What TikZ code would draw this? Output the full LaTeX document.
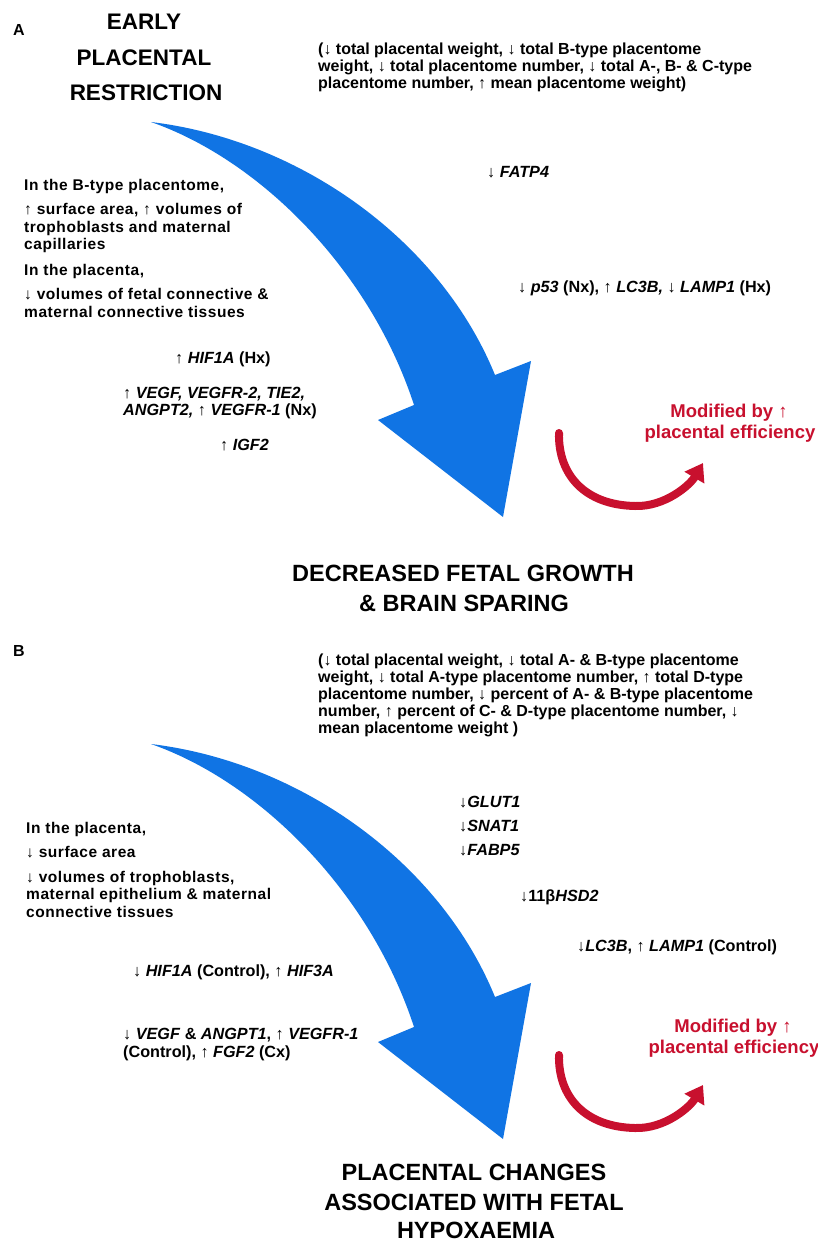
\documentclass[tikz,border=0pt]{standalone}
\usepackage{fontspec}
\setmainfont{Liberation Sans}
\newfontfamily\spacedfont{Liberation Sans}[LetterSpace=3.5]
\usetikzlibrary{arrows.meta}
\definecolor{bluearrow}{RGB}{16,116,228}
\definecolor{redc}{RGB}{200,16,46}
\begin{document}
\begin{tikzpicture}[x=1pt,y=-1pt,
  title/.style={inner sep=0pt, anchor=base, font=\bfseries\fontsize{22.5}{26}\selectfont},
  bigtitle/.style={inner sep=0pt, anchor=base, font=\bfseries\fontsize{23.5}{27}\selectfont},
  panel/.style={inner sep=0pt, anchor=base west, font=\bfseries\fontsize{16}{18}\selectfont},
  summary/.style={inner sep=0pt, anchor=base west, font=\bfseries\fontsize{16}{18}\selectfont},
  para/.style={inner sep=0pt, anchor=base west, font=\spacedfont\bfseries\fontsize{15.5}{18}\selectfont},
  gene/.style={inner sep=0pt, anchor=base west, font=\bfseries\fontsize{16.2}{19}\selectfont},
  redtext/.style={inner sep=0pt, anchor=base, text=redc, font=\bfseries\fontsize{18.5}{21}\selectfont},
  bluebody/.style={fill=bluearrow},
  redarrow/.style={draw=redc, line width=8pt, line cap=round, -{Triangle[length=17pt,width=22pt]}}
]
\useasboundingbox (0,0) rectangle (817,1241);
\fill[white] (0,0) rectangle (817,1241);

% ---------- Panel A ----------
\fill[bluebody] (151,122) .. controls (300,140) and (440,240) .. (495,375) -- (531,361) -- (503,517) -- (378,420) -- (414,405) .. controls (370,270) and (260,160) .. (151,122) -- cycle;
\draw[redarrow] (559,433) .. controls (558,475) and (585,505) .. (635,506) .. controls (665,507) and (690,485) .. (703,463);

\node[panel] (labA) at (13,36) {A};
\node[title] (tA1) at (144,30) {EARLY};
\node[title] (tA2) at (144,66) {PLACENTAL};
\node[title] (tA3) at (146,101) {RESTRICTION};

\node[summary] (sA1) at (318,55) {(↓ total placental weight, ↓ total B-type placentome};
\node[summary] (sA2) at (318,72) {weight, ↓ total placentome number, ↓ total A-, B- \& C-type};
\node[summary] (sA3) at (318,89) {placentome number, ↑ mean placentome weight)};

\node[para] (pA1) at (24,191) {In the B-type placentome,};
\node[para] (pA2) at (24,215) {↑ surface area, ↑ volumes of};
\node[para] (pA3) at (24,233) {trophoblasts and maternal};
\node[para] (pA4) at (24,250) {capillaries};
\node[para] (pA5) at (24,276) {In the placenta,};
\node[para] (pA6) at (24,299) {↓ volumes of fetal connective \&};
\node[para] (pA7) at (24,317) {maternal connective tissues};

\node[gene] (gA1) at (175,363) {↑ \textit{HIF1A} (Hx)};
\node[gene] (gA2) at (123,398) {↑ \textit{VEGF, VEGFR-2, TIE2,}};
\node[gene] (gA3) at (123,415) {\textit{ANGPT2,} ↑ \textit{VEGFR-1} (Nx)};
\node[gene] (gA4) at (220,450) {↑ \textit{IGF2}};
\node[gene] (gA5) at (487,178) {↓ \textit{FATP4}};
\node[gene] (gA6) at (518,292) {↓ \textit{p53} (Nx), ↑ \textit{LC3B,} ↓ \textit{LAMP1} (Hx)};

\node[redtext] (rA1) at (729,417) {Modified by ↑};
\node[redtext] (rA2) at (730,438) {placental efficiency};

\node[bigtitle] (oA1) at (463,581) {DECREASED FETAL GROWTH};
\node[bigtitle] (oA2) at (464,611) {\& BRAIN SPARING};

% ---------- Panel B ----------
\begin{scope}[shift={(0,622)}]
\fill[bluebody] (151,122) .. controls (300,140) and (440,240) .. (495,375) -- (531,361) -- (503,517) -- (378,420) -- (414,405) .. controls (370,270) and (260,160) .. (151,122) -- cycle;
\draw[redarrow] (559,433) .. controls (558,475) and (585,505) .. (635,506) .. controls (665,507) and (690,485) .. (703,463);
\end{scope}

\node[panel] (labB) at (13,656) {B};

\node[summary] (sB1) at (318,665) {(↓ total placental weight, ↓ total A- \& B-type placentome};
\node[summary] (sB2) at (318,682) {weight, ↓ total A-type placentome number, ↑ total D-type};
\node[summary] (sB3) at (318,699) {placentome number, ↓ percent of A- \& B-type placentome};
\node[summary] (sB4) at (318,716) {number, ↑ percent of C- \& D-type placentome number, ↓};
\node[summary] (sB5) at (318,733) {mean placentome weight )};

\node[para] (pB1) at (26,833) {In the placenta,};
\node[para] (pB2) at (26,857) {↓ surface area};
\node[para] (pB3) at (26,882) {↓ volumes of trophoblasts,};
\node[para] (pB4) at (26,899) {maternal epithelium \& maternal};
\node[para] (pB5) at (26,917) {connective tissues};

\node[gene] (gB1) at (133,976) {↓ \textit{HIF1A} (Control), ↑ \textit{HIF3A}};
\node[gene] (gB2) at (123,1039) {↓ \textit{VEGF} \& \textit{ANGPT1}, ↑ \textit{VEGFR-1}};
\node[gene] (gB3) at (123,1057) {(Control), ↑ \textit{FGF2} (Cx)};
\node[gene] (gB4) at (459,807) {↓\textit{GLUT1}};
\node[gene] (gB5) at (459,831) {↓\textit{SNAT1}};
\node[gene] (gB6) at (459,855) {↓\textit{FABP5}};
\node[gene] (gB7) at (520,901) {↓11β\textit{HSD2}};
\node[gene] (gB8) at (577,951) {↓\textit{LC3B}, ↑ \textit{LAMP1} (Control)};

\node[redtext] (rB1) at (733,1032) {Modified by ↑};
\node[redtext] (rB2) at (734,1053) {placental efficiency};

\node[bigtitle] (oB1) at (474,1180) {PLACENTAL CHANGES};
\node[bigtitle] (oB2) at (474,1210) {ASSOCIATED WITH FETAL};
\node[bigtitle] (oB3) at (476,1238) {HYPOXAEMIA};
\end{tikzpicture}
\end{document}
